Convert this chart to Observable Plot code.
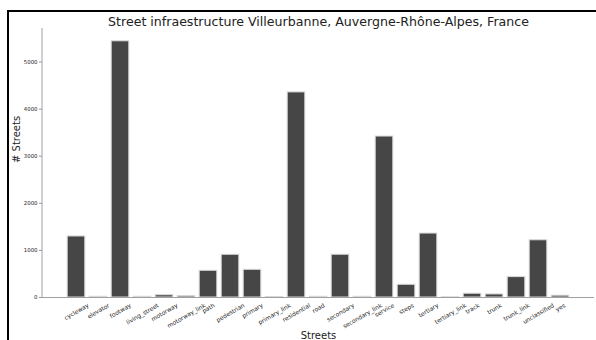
<!DOCTYPE html>
<html>
<head>
<meta charset="utf-8">
<script src="https://cdn.jsdelivr.net/npm/d3@7"></script>
<script src="https://cdn.jsdelivr.net/npm/@observablehq/plot@0.6"></script>
<style>
  html, body { margin: 0; padding: 0; background: #fff; overflow: hidden; }
  #wrap { position: relative; width: 596px; height: 340px; overflow: hidden; font-family: "DejaVu Sans", sans-serif; }
  #wrap svg { position: absolute; left: 0; top: 0; }
  .edge { position: absolute; background: #000; z-index: 2; pointer-events: none; }
  #edgeTop { left: 7px; top: 10px; width: 589px; height: 2px; }
  #edgeLeft { left: 7px; top: 10px; width: 2px; height: 330px; }
</style>
</head>
<body>
<div id="wrap"><div class="edge" id="edgeTop"></div><div class="edge" id="edgeLeft"></div></div>
<script>
const categories = ["cycleway","elevator","footway","living_street","motorway","motorway_link","path","pedestrian","primary","primary_link","residential","road","secondary","secondary_link","service","steps","tertiary","tertiary_link","track","trunk","trunk_link","unclassified","yes"];
const counts = [1296, 15, 5440, 15, 48, 28, 567, 907, 588, 5, 4355, 15, 908, 15, 3418, 270, 1358, 3, 80, 65, 433, 1215, 38];
const yTicks = [0, 1000, 2000, 3000, 4000, 5000];
const titleText = "Street infraestructure Villeurbanne, Auvergne-Rhône-Alpes, France";
const xLabel = "Streets";
const yLabel = "# Streets";

const data = categories.map((c, i) => ({cat: c, count: counts[i]}));

const tickFont = 5.9;
const ctx = document.createElement("canvas").getContext("2d");
ctx.font = `${tickFont}px "DejaVu Sans"`;
const labelMarks = categories.map(c => {
  const w = ctx.measureText(c).width;
  const bboxH = w * 0.5 + tickFont * 1.17 * Math.sqrt(3) / 2;
  return Plot.text([c], {
    x: d => d, frameAnchor: "bottom", lineAnchor: "middle", textAnchor: "middle",
    rotate: -30, dy: 4.5 + bboxH / 2, fontSize: tickFont, fill: "#222"
  });
});

// left spine drawn from the plot's own frame dimensions
const leftSpine = (index, scales, values, dims) => {
  const line = document.createElementNS("http://www.w3.org/2000/svg", "line");
  line.setAttribute("x1", dims.marginLeft);
  line.setAttribute("x2", dims.marginLeft);
  line.setAttribute("y1", dims.marginTop);
  line.setAttribute("y2", dims.height - dims.marginBottom);
  line.setAttribute("stroke", "#b0b0b0");
  line.setAttribute("stroke-width", 1.2);
  return line;
};

const chart = Plot.plot({
  width: 596, height: 340,
  marginLeft: 42, marginRight: 2, marginTop: 28, marginBottom: 43,
  style: {fontFamily: "DejaVu Sans", background: "transparent"},
  x: {domain: categories, paddingInner: 0.2, paddingOuter: 1.145, round: false, axis: null},
  y: {domain: [0, 5712], axis: null},
  marks: [
    Plot.barY(data, {x: "cat", y: "count", fill: "#464646", stroke: "#d8d8d8", strokeWidth: 1}),
    leftSpine,
    Plot.ruleY([0], {stroke: "#a0a0a0", strokeWidth: 1.2}),
    Plot.axisY({ticks: yTicks, tickSize: 3, tickPadding: 2, fontSize: 5.4, stroke: "#999", color: "#222", label: null, tickFormat: d => String(d)}),
    ...labelMarks,
    Plot.text([titleText], {frameAnchor: "top", lineAnchor: "middle", dy: -7, fontSize: 12.6, fill: "#222"}),
    Plot.text([yLabel], {frameAnchor: "left", lineAnchor: "middle", dx: -26, rotate: -90, fontSize: 10, fill: "#222"}),
    Plot.text([xLabel], {frameAnchor: "bottom", lineAnchor: "middle", dy: 38, fontSize: 10, fill: "#222"})
  ]
});
document.getElementById("wrap").appendChild(chart);
</script>
</body>
</html>
